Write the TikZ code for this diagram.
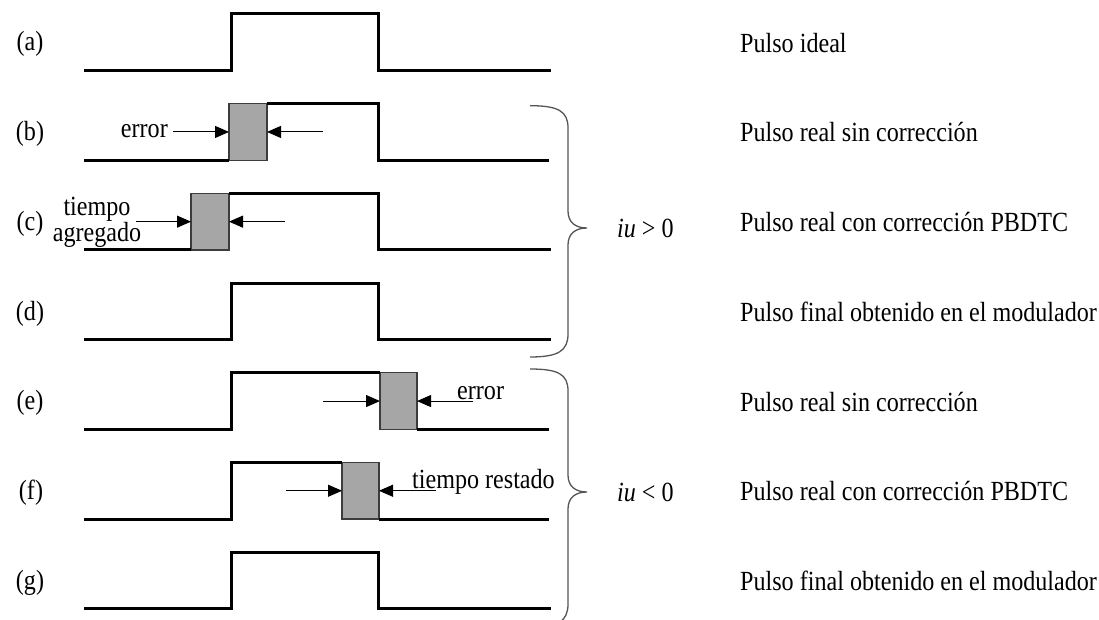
\documentclass[tikz,border=0pt]{standalone}
\usepackage{fontspec}
\setmainfont{Liberation Serif}[FakeStretch=0.87]
\usetikzlibrary{arrows.meta}
\definecolor{boxgray}{RGB}{166,166,166}
\definecolor{edgegray}{RGB}{60,60,60}
\definecolor{bracegray}{RGB}{85,85,85}
\begin{document}
\begin{tikzpicture}[x=1pt,y=-1pt,
  pulse/.style={line width=3pt, line join=miter, line cap=butt},
  gapbox/.style={rectangle, fill=boxgray, draw=edgegray, line width=1.2pt,
                 inner sep=0pt, outer sep=0pt, anchor=north west, minimum height=56.5pt},
  marker/.style={line width=1pt, -{Triangle[length=14pt,width=12pt]}},
  txt/.style={font=\fontsize{27.7}{30}\selectfont, inner sep=0pt},
  tag/.style={txt, anchor=base},
  caption/.style={txt, anchor=base west},
  curly/.style={draw=bracegray, line width=1.3pt}
]
\clip (0,0) rectangle (1099,620);

% (a) ideal pulse
\node[tag] (la) at (30,51) {(a)};
\draw[pulse] (84,70.5) -| (231,14) -| (378,70.5) -- (551,70.5);
\node[caption] (ta) at (740,52.5) {Pulso ideal};

% (b) real pulse, no correction
\node[tag] (lb) at (30,140.5) {(b)};
\node[gapbox, minimum width=38pt] (gb) at (229,103.7) {};
\draw[pulse] (84,160.2) -- (gb.south west);
\draw[pulse] (gb.north east) -| (378,160.2) -- (549,160.2);
\node[txt, anchor=base east] (eb) at (168,138) {error};
\coordinate (rb) at ([xshift=56pt]gb.east);
\draw[marker] ([xshift=5pt]eb.east |- gb.west) -- (gb.west);
\draw[marker] (rb) -- (gb.east);
\node[caption] (tb) at (740,142) {Pulso real sin corrección};

% (c) real pulse with PBDTC correction
\node[tag] (lc) at (30,230) {(c)};
\node[gapbox, minimum width=38pt] (gc) at (191,193.4) {};
\draw[pulse] (84,249.9) -- (gc.south west);
\draw[pulse] (gc.north east) -| (378,249.9) -- (551,249.9);
\node[txt, align=center, font=\fontsize{27.7}{20}\selectfont] (tc) at (97,222.5) {tiempo\\agregado};
\coordinate (lcs) at ([xshift=-55pt]gc.west);
\coordinate (rcs) at ([xshift=56pt]gc.east);
\draw[marker] (lcs) -- (gc.west);
\draw[marker] (rcs) -- (gc.east);
\node[caption] (tcc) at (740,231.5) {Pulso real con corrección PBDTC};

% (d) final pulse
\node[tag] (ld) at (30,320) {(d)};
\draw[pulse] (84,339.6) -| (231,283.1) -| (378,339.6) -- (551,339.6);
\node[caption] (td) at (740,321.5) {Pulso final obtenido en el modulador};

% (e) real pulse, no correction
\node[tag] (le) at (30,409.5) {(e)};
\node[gapbox, minimum width=37pt] (ge) at (380,372.8) {};
\draw[pulse] (84,429.3) -| (231,372.8) -- (ge.north west);
\draw[pulse] (ge.south east) -- (549,429.3);
\node[caption] (ee) at (457,399) {error};
\coordinate (les) at ([xshift=-57pt]ge.west);
\coordinate (res) at ([xshift=56pt]ge.east);
\draw[marker] (les) -- (ge.west);
\draw[marker] (res) -- (ge.east);
\node[caption] (te) at (740,411) {Pulso real sin corrección};

% (f) real pulse with PBDTC correction
\node[tag] (lf) at (31,499) {(f)};
\node[gapbox, minimum width=37pt] (gf) at (342,462.5) {};
\draw[pulse] (84,519) -| (231,462.5) -- (gf.north west);
\draw[pulse] (gf.south east) -- (549,519);
\node[caption] (ef) at (412,488) {tiempo restado};
\coordinate (lfs) at ([xshift=-56pt]gf.west);
\coordinate (rfs) at ([xshift=57pt]gf.east);
\draw[marker] (lfs) -- (gf.west);
\draw[marker] (rfs) -- (gf.east);
\node[caption] (tf) at (740,500.5) {Pulso real con corrección PBDTC};

% (g) final pulse
\node[tag] (lg) at (30,589) {(g)};
\draw[pulse] (84,608.7) -| (231,552.2) -| (378,608.7) -- (551,608.7);
\node[caption] (tg) at (740,590.5) {Pulso final obtenido en el modulador};

% braces grouping the two current directions
\draw[curly] (530,105.7) .. controls (558,105.7) and (568,111) .. (568,128)
  -- (568,211) .. controls (568,222) and (575,228) .. (587,228)
  .. controls (575,228) and (568,234) .. (568,245)
  -- (568,334) .. controls (568,351) and (558,357) .. (530,357);
\draw[curly] (530,369) .. controls (558,369) and (568,374) .. (568,391)
  -- (568,475) .. controls (568,486) and (575,492) .. (587,492)
  .. controls (575,492) and (568,498) .. (568,509)
  -- (568,604) .. controls (568,621) and (558,628) .. (530,628);
\node[txt, anchor=west] (iup) at (617,228) {\textit{iu} > 0};
\node[txt, anchor=west] (ium) at (617,492) {\textit{iu} < 0};
\end{tikzpicture}
\end{document}
